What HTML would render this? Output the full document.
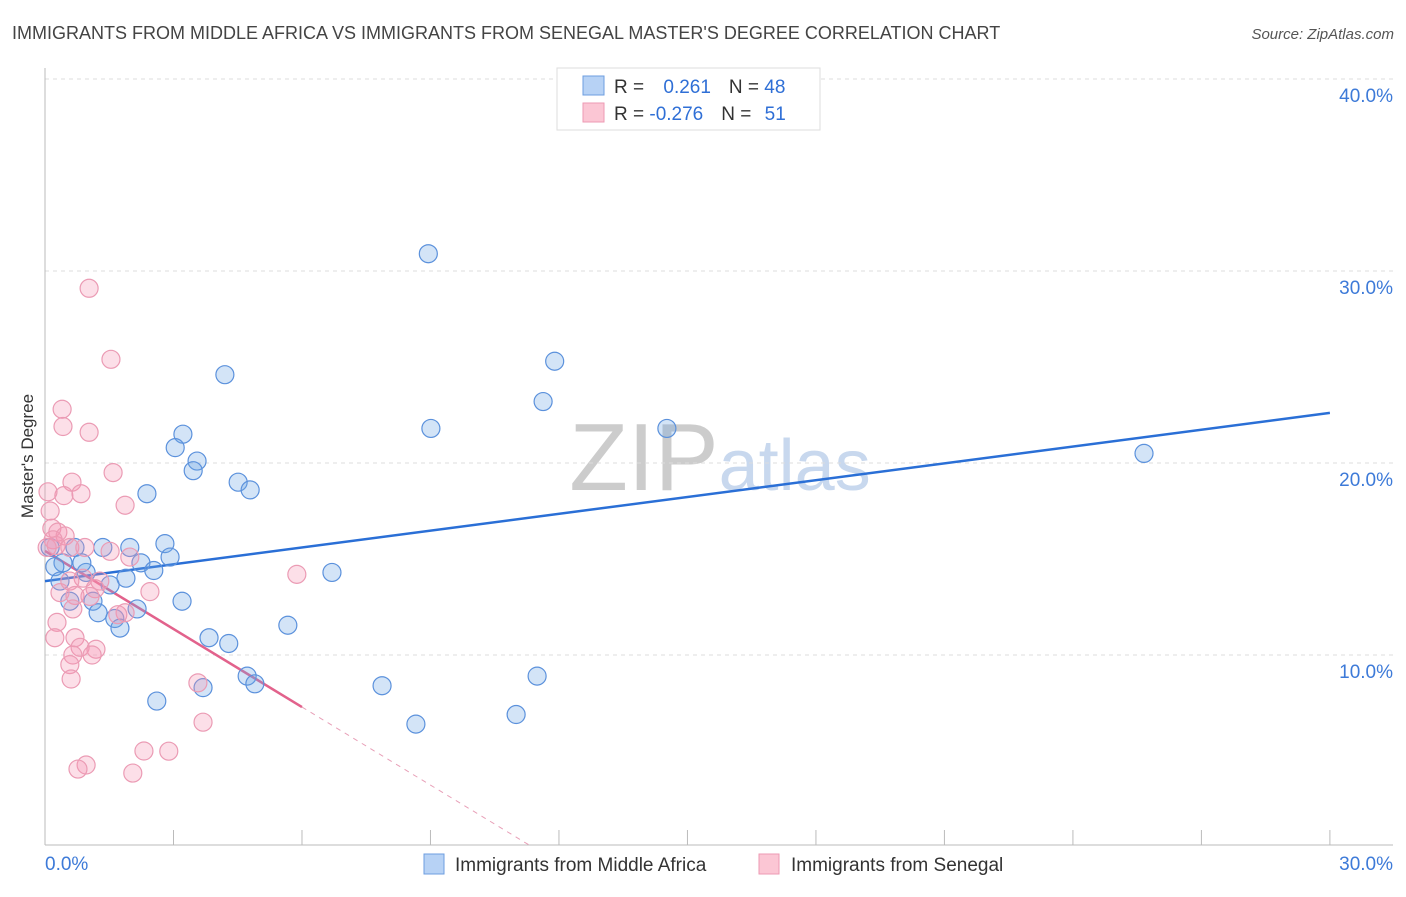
<!DOCTYPE html>
<html><head><meta charset="utf-8"><style>
body{margin:0;background:#fff;font-family:"Liberation Sans",sans-serif;}
svg text{font-family:"Liberation Sans",sans-serif;}
</style></head><body>
<svg id="chart" width="1406" height="892" xmlns="http://www.w3.org/2000/svg">
<text x="12" y="39" font-size="18" fill="#444">IMMIGRANTS FROM MIDDLE AFRICA VS IMMIGRANTS FROM SENEGAL MASTER'S DEGREE CORRELATION CHART</text>
<text x="1394" y="39" font-size="15" fill="#555" text-anchor="end" font-style="italic">Source: ZipAtlas.com</text>
<text x="720" y="490" font-size="96" text-anchor="middle" fill="#ddd" font-family="Liberation Serif"><tspan fill="#ccc">ZIP</tspan><tspan fill="#c8d8ee" font-family="Liberation Sans" font-size="72">atlas</tspan></text>
<g id="grid"></g>
<g id="axes"></g>
<g id="lines"></g>
<g id="pts"></g>
<text transform="translate(33,456) rotate(-90)" font-size="17" fill="#333" text-anchor="middle">Master's Degree</text>
<g>
<rect x="557" y="68" width="263" height="62" fill="#fff" stroke="#ddd"/>
<rect x="583" y="76" width="21" height="19" fill="#b7d2f5" stroke="#6c9ee0"/>
<rect x="583" y="103" width="21" height="19" fill="#fbc6d4" stroke="#ee9ab3"/>
<text x="614" y="93" font-size="19" fill="#333">R = <tspan fill="#2f6fd6" dx="14">0.261</tspan><tspan dx="18">N = </tspan><tspan fill="#2f6fd6">48</tspan></text>
<text x="614" y="120" font-size="19" fill="#333">R = <tspan fill="#2f6fd6">-0.276</tspan><tspan dx="18">N = </tspan><tspan fill="#2f6fd6" dx="8">51</tspan></text>
</g>
<g>
<rect x="424" y="854" width="20" height="20" fill="#b7d2f5" stroke="#6c9ee0"/>
<text x="455" y="871" font-size="19" fill="#333">Immigrants from Middle Africa</text>
<rect x="759" y="854" width="20" height="20" fill="#fbc6d4" stroke="#ee9ab3"/>
<text x="791" y="871" font-size="19" fill="#333">Immigrants from Senegal</text>
</g>
</svg>
<script>
const yTicks=[10,20,30,40];
const yTickLabels=["10.0%","20.0%","30.0%","40.0%"];
const xTickLabels=["0.0%","30.0%"];
const blueX=[8.95,4.2,11.9,11.63,9.01,14.52,25.66,3.22,3.04,3.55,3.46,4.51,4.79,2.38,2.8,2.92,1.98,1.35,0.7,2.24,2.54,1.89,1.52,0.96,0.86,0.42,0.23,0.35,0.58,1.12,1.24,1.63,1.75,2.15,3.2,3.83,4.29,5.67,6.7,4.72,4.9,3.69,2.61,7.87,11.49,8.66,11.0,0.12];
const blueY=[30.9,24.6,25.3,23.2,21.8,21.8,20.5,21.5,20.8,20.1,19.6,19.0,18.6,18.4,15.8,15.1,15.6,15.6,15.6,14.8,14.4,14.0,13.65,14.3,14.8,14.8,14.6,13.85,12.8,12.8,12.2,11.9,11.4,12.4,12.8,10.9,10.6,11.55,14.3,8.9,8.5,8.3,7.6,8.4,8.9,6.4,6.9,15.6];
const pinkX=[1.03,1.54,0.4,0.42,1.03,1.59,0.63,0.44,0.84,0.07,1.87,0.12,0.16,0.3,0.47,0.19,0.05,0.26,0.58,1.98,0.89,0.58,1.17,0.35,0.7,1.05,0.65,2.45,1.87,1.7,5.88,0.28,0.23,0.7,0.82,1.19,1.1,0.65,0.58,0.61,3.57,3.69,2.31,2.89,0.96,0.77,2.05,1.52,1.28,0.93];
const pinkY=[29.1,25.4,22.8,21.9,21.6,19.5,19.0,18.3,18.4,18.5,17.8,17.5,16.6,16.4,16.2,16.0,15.6,15.7,15.6,15.1,14.0,13.85,13.45,13.25,13.1,13.05,12.4,13.3,12.2,12.1,14.2,11.7,10.9,10.9,10.4,10.3,10.0,10.0,9.5,8.75,8.55,6.5,5.0,4.99,4.27,4.06,3.85,15.4,13.85,15.6];
const blueTrend=[13.85,0.292];
const pinkTrend=[15.42,-1.355];
const pinkSolidEnd=6.0;
const X=v=>45+v*42.83, Y=v=>847-v*19.2;
const NS="http://www.w3.org/2000/svg";
function mk(t,p,a){const e=document.createElementNS(NS,t);for(const k in a)e.setAttribute(k,a[k]);p.appendChild(e);return e;}
const g=document.getElementById('grid'),ax=document.getElementById('axes'),ln=document.getElementById('lines'),pts=document.getElementById('pts');
yTicks.forEach((t,i)=>{
 const l=mk('line',g,{x1:45,x2:1393,y1:Y(t),y2:Y(t),stroke:'#ddd','stroke-dasharray':'4,4'});
 
 
 const tx=mk('text',g,{x:1393,y:Y(t)+23,'font-size':19,fill:'#3d7ad8','text-anchor':'end'});
 tx.textContent=yTickLabels[i];
 
 
});
mk('line',ax,{x1:45,x2:45,y1:68,y2:845,stroke:'#bbb'});
mk('line',ax,{x1:45,x2:1393,y1:845,y2:845,stroke:'#bbb'});
for(let i=0;i<=10;i++){const x=X(i*3);mk('line',ax,{x1:x,x2:x,y1:830,y2:845,stroke:'#bbb'});}
[[0,'start'],[30,'end']].forEach((d,i)=>{
 const tx=mk('text',ax,{x:i?1393:45,y:870,'font-size':19,fill:'#3d7ad8','text-anchor':d[1]});
 tx.textContent=xTickLabels[i];
 
 
});
blueX.forEach((v,i)=>{
 const c=mk('circle',pts,{cx:X(v),cy:Y(blueY[i]),r:9,fill:'rgba(110,165,230,0.3)',stroke:'#5b91dc','stroke-width':1.2});
 
 
});
pinkX.forEach((v,i)=>{
 const c=mk('circle',pts,{cx:X(v),cy:Y(pinkY[i]),r:9,fill:'rgba(245,150,180,0.3)',stroke:'#eb9bb4','stroke-width':1.2});
 
 
});
const b=mk('line',ln,{x1:X(0),y1:Y(blueTrend[0]),x2:X(30),y2:Y(blueTrend[0]+blueTrend[1]*30),stroke:'#2a6fd6','stroke-width':2.5});


const p=mk('line',ln,{x1:X(0),y1:Y(pinkTrend[0]),x2:X(pinkSolidEnd),y2:Y(pinkTrend[0]+pinkTrend[1]*pinkSolidEnd),stroke:'#e2628c','stroke-width':2.5});


const xe=-pinkTrend[0]/pinkTrend[1];
const pd=mk('line',ln,{x1:X(pinkSolidEnd),y1:Y(pinkTrend[0]+pinkTrend[1]*pinkSolidEnd),x2:X(xe),y2:Y(0),stroke:'#e8a0b8','stroke-width':1,'stroke-dasharray':'5,5'});


</script>
</body></html>
